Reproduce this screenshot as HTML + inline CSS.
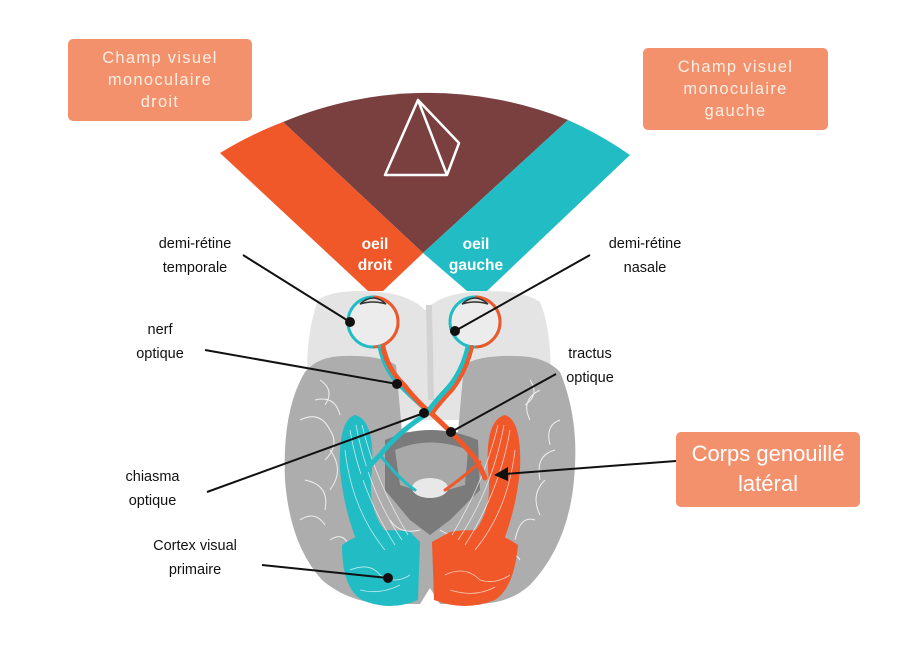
<!DOCTYPE html>
<html><head><meta charset="utf-8"><style>
html,body{margin:0;padding:0;background:#fff;}
body{width:914px;height:646px;position:relative;overflow:hidden;font-family:"Liberation Sans",sans-serif;}
.box{position:absolute;background:#f3916d;border-radius:5px;color:#fdeee4;text-align:center;font-size:16.5px;letter-spacing:1.3px;line-height:22px;}
.lbl{position:absolute;font-size:14.5px;color:#111;text-align:center;line-height:24px;}
</style></head><body>
<svg width="914" height="646" style="position:absolute;left:0;top:0">
<!-- fan -->
<path d="M283,122 A375,375 0 0 1 568,120 L423,253 Z" fill="#7a4040"/>
<path d="M220,153 A375,375 0 0 1 283,122 L423,253 L383,291 L368,291 Z" fill="#f0582a"/>
<path d="M568,120 A375,375 0 0 1 630,155 L487,291 L467,291 L423,253 Z" fill="#22bcc4"/>
<g stroke="#fff" stroke-width="2.5" fill="none" stroke-linejoin="round">
<path d="M418,100 L385,175 L447,175 L459,143 Z M418,100 L447,175"/>
</g>
<g fill="#fff" font-weight="bold" font-size="15.5" text-anchor="middle" font-family="Liberation Sans,sans-serif">
<text x="375" y="249">oeil</text><text x="375" y="270">droit</text>
<text x="476" y="249">oeil</text><text x="476" y="270">gauche</text>
</g>
<!-- frontal light -->
<path d="M318,300 Q335,288 380,292 Q410,295 425,310 Q440,295 470,292 Q520,288 540,302 Q556,340 548,420 L312,420 Q300,350 318,300 Z" fill="#e4e4e4"/>
<path d="M426,305 L428,400 L434,400 L432,305 Z" fill="#d2d2d2"/>
<!-- brain dark -->
<path d="M305,372 Q318,356 345,356 Q380,355 396,365 L402,432 L458,432 L464,365 Q480,355 515,356 Q545,356 560,372 Q580,420 574,480 Q568,545 530,585 Q510,603 480,604 L440,604 L430,588 L420,604 L380,604 Q345,600 322,580 Q290,545 285,480 Q282,410 305,372 Z" fill="#adadad"/>
<g stroke="#fff" stroke-width="1" fill="none" opacity="0.8">
<path d="M300,420 q20,-10 30,10 q10,15 -5,30 M305,480 q25,5 20,30 M320,380 q15,10 5,25 M540,390 q-20,10 -10,30 M555,450 q-20,5 -15,30 M535,520 q-15,-5 -20,20 M330,540 q15,-10 20,10 M520,560 q-10,-15 -25,0 M330,450 q15,20 0,40 M545,480 q-15,15 -5,35 M390,520 q10,15 30,10 M440,530 q15,10 30,0 M300,520 q15,-10 25,5 M560,420 q-15,5 -10,25 M315,400 q20,-5 25,15 M530,380 q10,15 -5,25"/>
</g>
<path d="M385,440 Q430,420 478,440 L480,490 L450,520 L430,535 L410,520 L385,490 Z" fill="#7b7b7b"/>
<path d="M395,450 Q430,435 468,450 L465,485 L430,495 L400,485 Z" fill="#a8a8a8"/>
<ellipse cx="430" cy="488" rx="18" ry="10" fill="#e8e8e8"/>
<!-- radiations -->
<path d="M355,415 Q375,420 372,470 Q365,520 400,545 L410,560 L365,560 Q345,520 340,470 Q338,420 355,415 Z" fill="#22bcc4"/>
<path d="M505,415 Q485,420 488,470 Q495,520 460,545 L450,560 L495,560 Q515,520 520,470 Q522,420 505,415 Z" fill="#f0582a"/>
<path d="M342,545 Q370,525 410,532 L420,542 L418,600 Q390,612 362,600 Q342,588 342,545 Z" fill="#22bcc4"/>
<path d="M518,545 Q490,525 450,532 L432,542 L434,600 Q465,612 495,600 Q514,588 518,545 Z" fill="#f0582a"/>
<g stroke="#fff" stroke-width="0.8" fill="none" opacity="0.7">
<path d="M350,430 Q360,490 395,545 M356,425 Q368,490 402,540 M362,425 Q375,480 408,535 M345,450 Q352,510 385,550"/>
<path d="M510,430 Q500,490 465,545 M504,425 Q492,490 458,540 M498,425 Q485,480 452,535 M515,450 Q508,510 475,550"/>
<path d="M350,570 q20,-8 30,5 q15,10 30,0 M445,575 q20,-10 35,5 q15,5 30,-5 M360,590 q20,5 40,-5 M450,590 q25,8 45,-3"/>
</g>
<!-- eyes -->
<circle cx="373" cy="322" r="25" fill="#ececec" stroke="#22bcc4" stroke-width="3"/>
<path d="M373,297 A25,25 0 0 1 373,347" fill="none" stroke="#f0582a" stroke-width="3"/>
<circle cx="475" cy="322" r="25" fill="#ececec" stroke="#22bcc4" stroke-width="3"/>
<path d="M475,297 A25,25 0 0 1 475,347" fill="none" stroke="#f0582a" stroke-width="3"/>
<g fill="#ddd" stroke="#333" stroke-width="1.5">
<path d="M360,304 Q373,292 386,304 Q373,300 360,304 Z"/>
<path d="M462,304 Q475,292 488,304 Q475,300 462,304 Z"/>
</g>
<!-- nerves -->
<g fill="none" stroke-linecap="round">
<path d="M380,347 Q385,370 400,385 Q420,405 430,412 Q400,430 380,455 Q365,470 362,478" stroke="#22bcc4" stroke-width="5"/>
<path d="M383,347 Q388,370 404,385 Q420,405 432,414 Q460,440 475,458 Q482,470 485,478" stroke="#f0582a" stroke-width="5"/>
<path d="M468,347 Q462,372 448,388 Q432,405 428,412" stroke="#22bcc4" stroke-width="5"/>
<path d="M472,347 Q466,372 452,390 Q437,406 432,414" stroke="#f0582a" stroke-width="4"/>
<path d="M380,455 Q400,480 415,490" stroke="#22bcc4" stroke-width="3"/>
<path d="M480,462 Q460,480 445,490" stroke="#f0582a" stroke-width="3"/>
</g>
<!-- leaders -->
<g stroke="#111" stroke-width="2" fill="#111">
<line x1="243" y1="255" x2="350" y2="322"/><circle cx="350" cy="322" r="4"/>
<line x1="590" y1="255" x2="455" y2="331"/><circle cx="455" cy="331" r="4"/>
<line x1="205" y1="350" x2="397" y2="384"/><circle cx="397" cy="384" r="4"/>
<line x1="207" y1="492" x2="424" y2="413"/><circle cx="424" cy="413" r="4"/>
<line x1="556" y1="374" x2="451" y2="432"/><circle cx="451" cy="432" r="4"/>
<line x1="262" y1="565" x2="388" y2="578"/><circle cx="388" cy="578" r="4"/>
<line x1="676" y1="461" x2="505" y2="474"/>
<path d="M494,475 L508,467 L508,481 Z" stroke="none"/>
</g>
</svg>
<div class="box" style="left:68px;top:39px;width:184px;height:82px;padding-top:8px;box-sizing:border-box;">Champ visuel<br>monoculaire<br>droit</div>
<div class="box" style="left:643px;top:48px;width:185px;height:82px;padding-top:8px;box-sizing:border-box;">Champ visuel<br>monoculaire<br>gauche</div>
<div class="box" style="left:676px;top:432px;width:184px;height:75px;color:#fff;font-size:22px;letter-spacing:0;line-height:30px;padding-top:7px;box-sizing:border-box;">Corps genouillé<br>latéral</div>
<div class="lbl" style="left:130px;top:232px;width:130px;">demi-rétine<br>temporale</div>
<div class="lbl" style="left:580px;top:232px;width:130px;">demi-rétine<br>nasale</div>
<div class="lbl" style="left:110px;top:318px;width:100px;">nerf<br>optique</div>
<div class="lbl" style="left:540px;top:342px;width:100px;">tractus<br>optique</div>
<div class="lbl" style="left:100px;top:465px;width:105px;">chiasma<br>optique</div>
<div class="lbl" style="left:130px;top:534px;width:130px;">Cortex visual<br>primaire</div>
</body></html>
